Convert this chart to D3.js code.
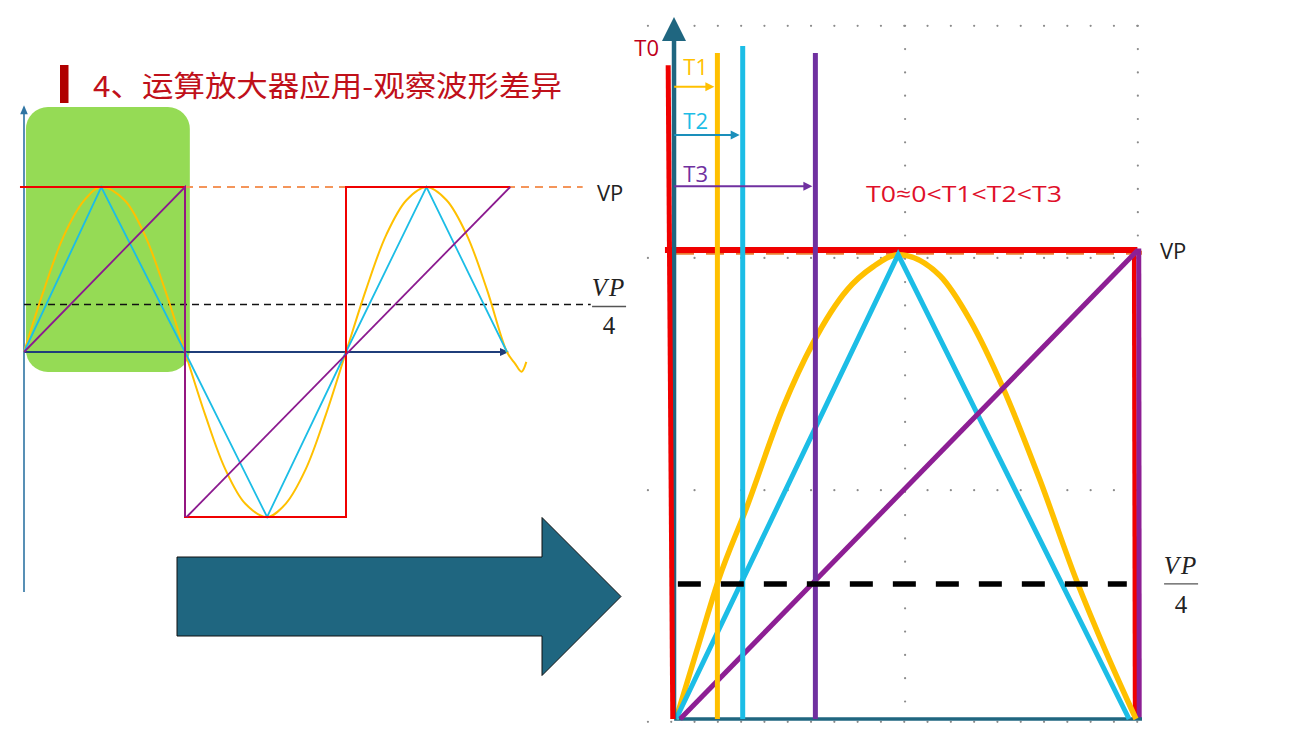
<!DOCTYPE html>
<html><head><meta charset="utf-8">
<script src="https://cdn.jsdelivr.net/npm/d3@7"></script>
<style>html,body{margin:0;padding:0;background:#fff;overflow:hidden}svg{display:block}</style>
</head><body>
<script>
// ================= DATA =================
const titleText = "4、运算放大器应用-观察波形差异";
const levelLabel = "VP";
const quarterLevel = 0.288;            // level of the VP/4 dashed line (units of VP)

// ---- left panel: t in half-periods, v in units of VP ----
const leftSquare   = [[-0.025,1],[1,1],[1,-1],[2,-1],[2,1],[3.02,1]];
const leftTriangle = [[0,0],[0.48,1],[1,0],[1.51,-1],[2,0],[2.5,1],[3,0]];
const leftSawRise1 = [[0,0],[1,1],[1,-1]];
const leftSawRise2 = [[1.01,-1],[3.02,1]];
const leftSineT = [0,.125,.25,.375,.48,.625,.75,.875,1,1.125,1.25,1.375,1.51,1.625,1.75,1.875,2,2.125,2.25,2.375,2.5,2.625,2.75,2.875,3,3.05,3.09,3.12];
const leftSineV = [0,.38,.71,.92,1,.92,.71,.38,0,-.38,-.71,-.92,-1,-.92,-.71,-.38,0,.38,.71,.92,1,.92,.71,.38,0,-.07,-.12,-.06];

// ---- right panel (zoom of first half period): t in half-period, v in VP ----
const rightSineT = [0,.052,.093,.154,.233,.298,.372,.428,.483,.574,.639,.711,.791,.872,.933,1.0];
const rightSineV = [0,.168,.298,.452,.665,.802,.915,.964,.99,.945,.851,.706,.510,.292,.147,0];
const rightTriangle = [[0,0],[0.483,0.99],[0.985,0]];
const rightRamp     = [[0.009,0],[1.004,1]];
const rightT0Line   = [[-0.017,1.394],[-0.007,0]];
const markerNames  = ["T1","T2","T3"];
const markerTimes  = [0.090, 0.145, 0.303];
const markerTops   = [1.42, 1.435, 1.42];
const arrowLevels  = [1.348, 1.245, 1.136];
const labelLevels  = [1.392, 1.277, 1.164];
const relationText = "T0\u22480<T1<T2<T3";
const gridRows = [1.478, 0.983, 0.488, -0.006];
const gridCols = [0.498, 1.004];

// ================= STYLE =================
const C = {
  red:"#f00000", yellow:"#ffc000", cyan:"#1cbde6", cyanArrow:"#1a8fbb",
  purple:"#7030a0", ramp:"#8d1f94", lpurple:"#8b1a8f",
  green:"#95db55", teal:"#1f6680", navy:"#1f3d7a", steel:"#2e74a3",
  orange:"#f4955a", orangeR:"#ed7d31", title:"#c0101a", dark:"#b00000"
};

const W=1291,H=729;
const svg=d3.select("body").append("svg").attr("width",W).attr("height",H);

const xL=d3.scaleLinear().domain([0,3]).range([24,507]);
const yL=d3.scaleLinear().domain([-1,1]).range([517,187]);
const xR=d3.scaleLinear().domain([0,1]).range([676,1136]);
const yR=d3.scaleLinear().domain([0,1]).range([719,250]);

const lineL=d3.line().x(d=>xL(d[0])).y(d=>yL(d[1]));
const lineR=d3.line().x(d=>xR(d[0])).y(d=>yR(d[1]));

function arrowHead(g, tip, dir, len, half, color){
  const [tx,ty]=tip, [dx,dy]=dir;
  const bx=tx-dx*len, by=ty-dy*len;
  const px=-dy*half, py=dx*half;
  g.append("path").attr("d",`M${tx},${ty}L${bx+px},${by+py}L${bx-px},${by-py}Z`).attr("fill",color);
}

// ================= TITLE =================
svg.append("rect").attr("x",60).attr("y",65).attr("width",8.5).attr("height",38).attr("fill",C.dark);
svg.append("text").attr("x",93).attr("y",84).attr("dominant-baseline","central")
  .attr("font-family","'Noto Sans CJK SC','Noto Sans',sans-serif").attr("font-size",29)
  .attr("fill",C.title).attr("textLength",469).attr("lengthAdjust","spacingAndGlyphs").text(titleText);

// ================= LEFT PANEL =================
const gL=svg.append("g");
gL.append("rect").attr("x",xL(0.012)).attr("y",yL(1.485))
  .attr("width",xL(1.03)-xL(0.012)).attr("height",yL(-0.121)-yL(1.485))
  .attr("rx",22).attr("fill",C.green);

gL.append("line").attr("x1",xL(0)).attr("x2",xL(0)).attr("y1",yL(-1.455)).attr("y2",yL(1.46))
  .attr("stroke",C.steel).attr("stroke-width",1.6);
arrowHead(gL,[xL(0),yL(1.495)],[0,-1],9,3.8,C.steel);

gL.append("path").attr("d",lineL([[1,1],[3.47,1]])).attr("stroke",C.orange).attr("stroke-width",2)
  .attr("stroke-dasharray","8,6").attr("fill","none");
gL.append("path").attr("d",lineL([[0,quarterLevel],[3.52,quarterLevel]])).attr("stroke","#111").attr("stroke-width",1.6)
  .attr("stroke-dasharray","7,5").attr("fill","none");

gL.append("line").attr("x1",xL(0)).attr("x2",xL(3)-6).attr("y1",yL(0)).attr("y2",yL(0))
  .attr("stroke",C.navy).attr("stroke-width",2);
arrowHead(gL,[xL(3)+2,yL(0)],[1,0],9,4,C.navy);

const sinePtsL=leftSineT.map((t,i)=>[t,leftSineV[i]]);
gL.append("path").attr("d",d3.line().x(d=>xL(d[0])).y(d=>yL(d[1])).curve(d3.curveCatmullRom.alpha(0.5))(sinePtsL))
  .attr("stroke",C.yellow).attr("stroke-width",2).attr("fill","none");
gL.append("path").attr("d",lineL(leftTriangle)).attr("stroke",C.cyan).attr("stroke-width",1.8).attr("fill","none");
gL.append("path").attr("d",lineL(leftSquare)).attr("stroke",C.red).attr("stroke-width",2).attr("fill","none");
gL.append("path").attr("d",lineL(leftSawRise1)).attr("stroke",C.lpurple).attr("stroke-width",1.8).attr("fill","none");
gL.append("path").attr("d",lineL(leftSawRise2)).attr("stroke",C.lpurple).attr("stroke-width",1.8).attr("fill","none");

gL.append("text").attr("x",xL(3.559)).attr("y",yL(0.97)).attr("dominant-baseline","central")
  .attr("font-family","'Open Sans',sans-serif").attr("font-size",22).attr("fill","#222").text(levelLabel);
function fraction(g,cx,yTop,yBar,yBot,barHalf){
  g.append("text").attr("x",cx).attr("y",yTop).attr("text-anchor","middle").attr("dominant-baseline","central")
    .attr("font-family","'Liberation Serif','DejaVu Serif',serif").attr("font-style","italic").attr("font-size",25)
    .attr("letter-spacing",2).attr("fill","#222").text(levelLabel);
  g.append("line").attr("x1",cx-barHalf).attr("x2",cx+barHalf).attr("y1",yBar).attr("y2",yBar).attr("stroke","#555").attr("stroke-width",1.3);
  g.append("text").attr("x",cx).attr("y",yBot).attr("text-anchor","middle").attr("dominant-baseline","central")
    .attr("font-family","'Liberation Serif','DejaVu Serif',serif").attr("font-size",25).attr("fill","#222").text("4");
}
fraction(gL,xL(3.634),yL(0.388),yL(quarterLevel)+2,yL(0.158),17);

// ================= BIG ARROW =================
const A={x0:177,x1:542,xt:621,yc:596.5,bodyHalf:39.5,headHalf:79};
svg.append("path").attr("d",
  `M${A.x0},${A.yc-A.bodyHalf}L${A.x1},${A.yc-A.bodyHalf}L${A.x1},${A.yc-A.headHalf}L${A.xt},${A.yc}L${A.x1},${A.yc+A.headHalf}L${A.x1},${A.yc+A.bodyHalf}L${A.x0},${A.yc+A.bodyHalf}Z`)
  .attr("fill",C.teal).attr("stroke","#111").attr("stroke-width",1);

// ================= RIGHT PANEL =================
const gR=svg.append("g");
const step=23.3;
gridRows.forEach(v=>{
  const y=yR(v);
  d3.range(xR(-0.061),xR(1.004)+1,step).forEach(x=>gR.append("circle").attr("cx",x).attr("cy",y).attr("r",1.1).attr("fill","#8a8a8a"));
});
gridCols.forEach(t=>{
  const x=xR(t);
  d3.range(yR(1.478),yR(-0.006)+1,step).forEach(y=>gR.append("circle").attr("cx",x).attr("cy",y).attr("r",1.1).attr("fill","#8a8a8a"));
});

gR.append("path").attr("d",lineR([[0,0.994],[1.013,0.994]])).attr("stroke",C.orangeR).attr("stroke-width",4)
  .attr("stroke-dasharray","18,12").attr("fill","none");
gR.append("path").attr("d",lineR([[-0.024,1],[1.003,1]])).attr("stroke",C.red).attr("stroke-width",6).attr("fill","none");
gR.append("path").attr("d",lineR([[0.996,1],[0.998,0]])).attr("stroke",C.red).attr("stroke-width",4.5).attr("fill","none");
gR.append("path").attr("d",lineR([[1.006,1.003],[1.007,0]])).attr("stroke",C.ramp).attr("stroke-width",5).attr("fill","none");

gR.append("path").attr("d",lineR([[-0.004,0],[1.013,0]])).attr("stroke",C.teal).attr("stroke-width",3.5).attr("fill","none");

const sinePtsR=rightSineT.map((t,i)=>[t,rightSineV[i]]);
gR.append("path").attr("d",d3.line().x(d=>xR(d[0])).y(d=>yR(d[1])).curve(d3.curveMonotoneX)(sinePtsR))
  .attr("stroke",C.yellow).attr("stroke-width",5.5).attr("fill","none");
gR.append("path").attr("d",lineR(rightTriangle)).attr("stroke",C.cyan).attr("stroke-width",5).attr("fill","none");
gR.append("path").attr("d",lineR(rightRamp)).attr("stroke",C.ramp).attr("stroke-width",5).attr("fill","none");

const markerColors=[C.yellow,C.cyan,C.purple];
markerTimes.forEach((t,i)=>{
  gR.append("path").attr("d",lineR([[t,markerTops[i]],[t,0]])).attr("stroke",markerColors[i]).attr("stroke-width",5).attr("fill","none");
});

gR.append("path").attr("d",lineR([[-0.0043,0],[-0.0043,1.45]])).attr("stroke",C.teal).attr("stroke-width",4.5).attr("fill","none");
arrowHead(gR,[xR(-0.0043),yR(1.497)],[0,-1],24,12,C.teal);

gR.append("path").attr("d",lineR(rightT0Line)).attr("stroke",C.red).attr("stroke-width",5).attr("fill","none");

const arrowColors=[C.yellow,C.cyanArrow,C.purple];
markerTimes.forEach((t,i)=>{
  const y=yR(arrowLevels[i]);
  const x0=xR(-0.004), x1=xR(t)-3;
  gR.append("line").attr("x1",x0).attr("x2",x1-7).attr("y1",y).attr("y2",y).attr("stroke",arrowColors[i]).attr("stroke-width",2);
  arrowHead(gR,[x1,y],[1,0],9,4.5,arrowColors[i]);
});

gR.append("path").attr("d",lineR([[0.004,quarterLevel],[0.98,quarterLevel]])).attr("stroke","#000").attr("stroke-width",5.5)
  .attr("stroke-dasharray","23,20").attr("fill","none");

const sans="'Open Sans','Noto Sans',sans-serif";
gR.append("text").attr("x",xR(-0.037)).attr("y",yR(1.433)).attr("text-anchor","end").attr("dominant-baseline","central")
  .attr("font-family",sans).attr("font-size",22).attr("fill","#c0001a").text("T0");
const labelColors=[C.yellow,C.cyan,C.purple];
markerNames.forEach((n,i)=>{
  gR.append("text").attr("x",xR(0.016)).attr("y",yR(labelLevels[i])).attr("dominant-baseline","central")
    .attr("font-family",sans).attr("font-size",22).attr("fill",labelColors[i]).text(n);
});
gR.append("text").attr("x",xR(0.413)).attr("y",yR(1.122)).attr("dominant-baseline","central")
  .attr("font-family",sans).attr("font-size",22).attr("fill","#e0102a")
  .attr("textLength",196).attr("lengthAdjust","spacingAndGlyphs").text(relationText);
gR.append("text").attr("x",xR(1.052)).attr("y",yR(1.0)).attr("dominant-baseline","central")
  .attr("font-family",sans).attr("font-size",22).attr("fill","#222").text(levelLabel);
fraction(gR,xR(1.098),yR(0.328),yR(quarterLevel),yR(0.245),17);
</script>
</body></html>
